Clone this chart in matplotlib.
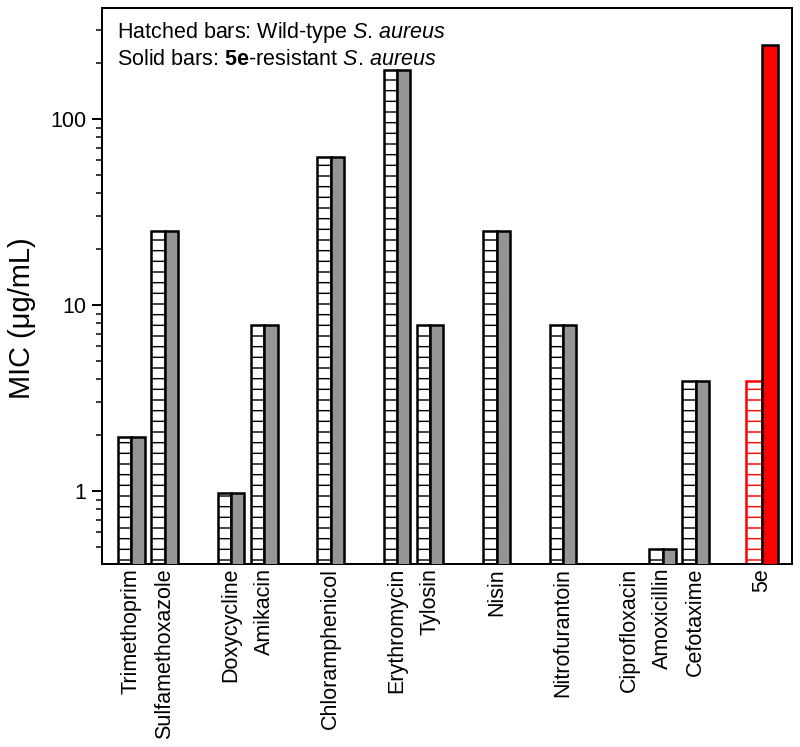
import numpy as np
import matplotlib
matplotlib.use("Agg")
import matplotlib.pyplot as plt
from matplotlib.ticker import LogLocator, FixedLocator, FuncFormatter, NullFormatter

plt.rcParams['font.family'] = ['Liberation Sans', 'DejaVu Sans']
plt.rcParams['mathtext.fontset'] = 'custom'
plt.rcParams['mathtext.rm'] = 'Liberation Sans'
plt.rcParams['mathtext.it'] = 'Liberation Sans:italic'
plt.rcParams['mathtext.bf'] = 'Liberation Sans:bold'
plt.rcParams['hatch.linewidth'] = 1.6

# MIC values (ug/mL)
drugs = ['Trimethoprim', 'Sulfamethoxazole', 'Doxycycline', 'Amikacin',
         'Chloramphenicol', 'Erythromycin', 'Tylosin', 'Nisin',
         'Nitrofurantoin', 'Ciprofloxacin', 'Amoxicillin', 'Cefotaxime', '5e']
mic_wild = [1.95, 25, 0.98, 7.8, 62.5, 183, 7.8, 25, 7.8, 0.24, 0.49, 3.9, 3.9]
mic_resist = [1.95, 25, 0.98, 7.8, 62.5, 183, 7.8, 25, 7.8, 0.24, 0.49, 3.9, 250]

# layout: bar-pair slots with gaps between drug classes
slots = np.array([0, 1, 3, 4, 6, 8, 9, 11, 13, 15, 16, 17, 19], dtype=float)
is_5e = np.array([d == '5e' for d in drugs])
widths = np.where(is_5e, 0.48, 0.40)
gray = '#959595'

# dpi 64 so the '-' hatch spacing matches the original (~10.7 px)
fig = plt.figure(figsize=(800 / 64, 747 / 64), dpi=64)
ax = fig.add_axes([0.127, 0.245, 0.863, 0.744])

px = 72 / 64  # points per pixel
lw = 2 * px
bar_lw = 2.5 * px

for i in range(len(drugs)):
    w = widths[i]
    edge = 'red' if is_5e[i] else 'black'
    ax.bar(slots[i] - w / 2, mic_wild[i], width=w, facecolor='white',
           edgecolor=edge, hatch='-', linewidth=bar_lw, zorder=2)
    face = 'red' if is_5e[i] else gray
    ax.bar(slots[i] + w / 2, mic_resist[i], width=w, facecolor=face,
           edgecolor='black', linewidth=bar_lw, zorder=3)

ax.set_yscale('log')
ax.set_ylim(0.405, 395)
ax.set_xlim(-0.9, 19.9)

ax.yaxis.set_major_locator(FixedLocator([1, 10, 100]))
ax.yaxis.set_major_formatter(FuncFormatter(lambda v, p: f'{v:g}'))
ax.yaxis.set_minor_locator(LogLocator(base=10, subs=np.arange(2, 10)))
ax.yaxis.set_minor_formatter(NullFormatter())
ax.tick_params(axis='y', which='major', direction='out', length=10 * px,
               width=lw, pad=5 * px, labelsize=21.5 * px)
ax.tick_params(axis='y', which='minor', direction='out', length=6 * px,
               width=1.5 * px)

ax.set_xticks(slots)
ax.set_xticklabels(drugs, rotation=90, ha='center', va='top')
ax.tick_params(axis='x', length=0, pad=4 * px, labelsize=21.5 * px)

for s in ax.spines.values():
    s.set_linewidth(lw)

ax.set_ylabel('MIC (\u03bcg/mL)', fontsize=29 * px)
ax.yaxis.set_label_coords(-0.095, 0.442)

# the '.' is kept outside mathtext, which would pad it like punctuation
ax.text(0.022, 0.946, r'Hatched bars: Wild-type $\mathit{S}$. $\mathit{aureus}$',
        transform=ax.transAxes, fontsize=21.5 * px, va='baseline', ha='left')
ax.text(0.022, 0.8975,
        r'Solid bars: $\mathbf{5e}$-resistant $\mathit{S}$. $\mathit{aureus}$',
        transform=ax.transAxes, fontsize=21.5 * px, va='baseline', ha='left')

fig.savefig('out.png', dpi=64)
